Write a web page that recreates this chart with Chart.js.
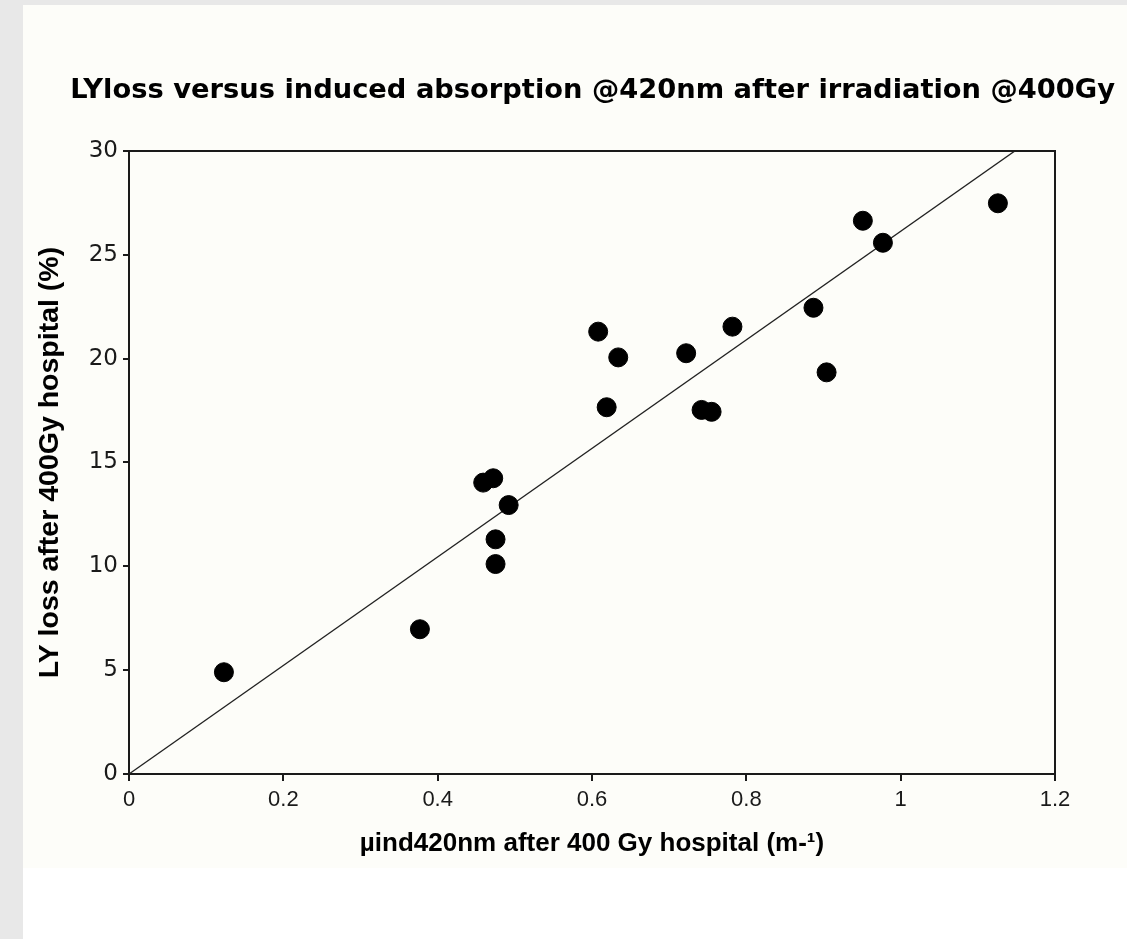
<!DOCTYPE html>
<html>
<head>
<meta charset="utf-8">
<title>LYloss versus induced absorption</title>
<script src="https://cdn.jsdelivr.net/npm/chart.js@4.4.1/dist/chart.umd.min.js"></script>
<style>
  html, body { margin: 0; padding: 0; background: #e8e8e8; }
  #paper {
    position: absolute; left: 23px; top: 5px; width: 1104px; height: 934px;
    background: linear-gradient(#fdfdf9 0, #fdfdf9 863px, #ffffff 863px);
  }
  #chart { position: absolute; left: 0; top: 0; }
</style>
</head>
<body>
<div id="paper"></div>
<canvas id="chart" width="1127" height="939"></canvas>
<script>
// measured points (µind 420nm, LY loss %)
const muInd  = [0.123, 0.377, 0.459, 0.472, 0.492, 0.475, 0.475, 0.608, 0.634, 0.619,
                0.722, 0.742, 0.755, 0.782, 0.887, 0.904, 0.951, 0.977, 1.126];
const lyLoss = [4.90, 6.97, 14.03, 14.24, 12.95, 11.30, 10.11, 21.30, 20.06, 17.66,
                20.26, 17.53, 17.44, 21.54, 22.45, 19.34, 26.64, 25.58, 27.48];

// fit line through origin, endpoints
const fitX = [0, 1.148];
const fitY = [0, 30];

const xTicks = [0, 0.2, 0.4, 0.6, 0.8, 1, 1.2];
const xTickLabels = ['0', '0.2', '0.4', '0.6', '0.8', '1', '1.2'];
const yTicks = [0, 5, 10, 15, 20, 25, 30];
const yTickLabels = ['0', '5', '10', '15', '20', '25', '30'];

const ink = '#1a1a1a';

// top + right edges of the box
const framePlugin = {
    id: 'frame',
    afterDraw(chart) {
        const a = chart.chartArea;
        const ctx = chart.ctx;
        ctx.save();
        ctx.strokeStyle = ink;
        ctx.lineWidth = 2;
        ctx.beginPath();
        ctx.moveTo(a.left, a.top);
        ctx.lineTo(a.right, a.top);
        ctx.lineTo(a.right, a.bottom);
        ctx.stroke();
        ctx.restore();
    }
};

new Chart(document.getElementById('chart'), {
    type: 'scatter',
    data: {
        datasets: [
            {
                label: 'fit',
                type: 'line',
                data: fitX.map((x, i) => ({ x: x, y: fitY[i] })),
                borderColor: '#222',
                borderWidth: 1.3,
                pointRadius: 0,
                fill: false,
                order: 2
            },
            {
                label: 'LY loss',
                data: muInd.map((x, i) => ({ x: x, y: lyLoss[i] })),
                backgroundColor: '#000',
                borderColor: '#000',
                pointRadius: 9.5,
                pointHoverRadius: 9.5,
                order: 1
            }
        ]
    },
    options: {
        responsive: false,
        animation: false,
        devicePixelRatio: 1,
        layout: { padding: { left: 0, right: 12, top: 0, bottom: 0 } },
        plugins: {
            legend: { display: false },
            tooltip: { enabled: false },
            title: {
                display: true,
                align: 'end',
                text: 'LYloss versus induced absorption @420nm after irradiation @400Gy',
                color: '#000',
                font: { family: 'DejaVu Sans', size: 27.3, weight: 'bold' },
                padding: { top: 75, bottom: 43.2 }
            }
        },
        scales: {
            x: {
                type: 'linear',
                min: 0,
                max: 1.2,
                afterBuildTicks: s => { s.ticks = xTicks.map(v => ({ value: v })); },
                afterFit: s => { s.height = 165; },
                ticks: {
                    color: ink,
                    padding: 6,
                    font: { family: 'Liberation Sans', size: 22 },
                    callback: (v, i) => xTickLabels[i]
                },
                grid: { drawOnChartArea: false, drawTicks: true, tickLength: 7, color: ink, lineWidth: 2 },
                border: { display: true, color: ink, width: 2 },
                title: {
                    display: true,
                    text: 'µind420nm after 400 Gy hospital (m-¹)',
                    color: '#000',
                    font: { family: 'Liberation Sans', size: 26, weight: 'bold' },
                    padding: { top: 0, bottom: 79.4 }
                }
            },
            y: {
                type: 'linear',
                min: 0,
                max: 30,
                afterBuildTicks: s => { s.ticks = yTicks.map(v => ({ value: v })); },
                afterFit: s => { s.width = 129; },
                ticks: {
                    color: ink,
                    padding: 5,
                    font: { family: 'DejaVu Sans', size: 23 },
                    callback: (v, i) => yTickLabels[i]
                },
                grid: { drawOnChartArea: false, drawTicks: true, tickLength: 6, color: ink, lineWidth: 2 },
                border: { display: true, color: ink, width: 2 },
                title: {
                    display: true,
                    text: 'LY loss after 400Gy hospital (%)',
                    color: '#000',
                    font: { family: 'Liberation Sans', size: 28.5, weight: 'bold' },
                    padding: { top: 33, bottom: 0 }
                }
            },
            // empty right-hand margin, keeps the box clear of the canvas edge
            yRight: {
                type: 'linear',
                position: 'right',
                min: 0,
                max: 30,
                afterFit: s => { s.width = 60; },
                ticks: { display: false },
                grid: { display: false },
                border: { display: false }
            }
        }
    },
    plugins: [framePlugin]
});
</script>
</body>
</html>
